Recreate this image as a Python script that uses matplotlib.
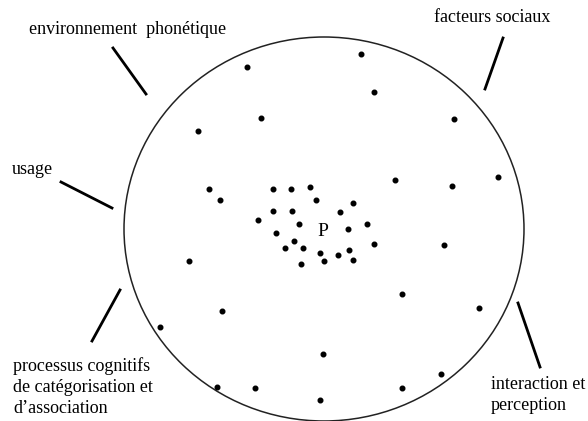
import matplotlib
matplotlib.use("Agg")
import matplotlib.pyplot as plt
from matplotlib.patches import Ellipse

# Dots (pixel coords, y downward)
outer_x = [247, 361, 374, 261, 198, 454, 395, 452, 498, 209, 220, 189, 444, 402, 479,
           222, 160, 323, 441, 217, 255, 402, 320]
outer_y = [67, 54, 92, 118, 131, 119, 180, 186, 177, 189, 200, 261, 245, 294, 308,
           311, 327, 354, 374, 387, 388, 388, 400]
cluster_x = [273, 291, 310, 316, 353, 273, 292, 340, 258, 299, 276, 367, 348, 294,
             285, 303, 374, 320, 349, 324, 338, 353, 301]
cluster_y = [189, 189, 187, 200, 203, 211, 211, 212, 220, 224, 233, 224, 229, 241,
             248, 248, 244, 253, 250, 261, 255, 260, 264]

circle_center = (324, 229)
circle_w, circle_h = 400, 384

# Labels: (text, x, y, ha)
labels = [
    ("environnement  phonétique", 29, 30, "left"),
    ("facteurs sociaux", 434, 17, "left"),
    ("usage", 12, 170, "left"),
    ("processus cognitifs\nde catégorisation et\nd’association", 13, 387, "left"),
    ("interaction et\nperception", 491, 395, "left"),
]
# Connector segments: (x0, y0, x1, y1)
segments = [
    (113, 48, 146, 94),
    (503, 38, 485, 89),
    (61, 182, 112, 208),
    (120, 290, 92, 341),
    (518, 303, 540, 367),
]

fig = plt.figure(figsize=(5.88, 4.21), dpi=100)
ax = fig.add_axes([0, 0, 1, 1])
ax.set_xlim(0, 588)
ax.set_ylim(421, 0)
ax.axis("off")

ax.add_patch(Ellipse(circle_center, circle_w, circle_h, fill=False,
                     edgecolor="#222222", linewidth=1.1))
ax.scatter(outer_x, outer_y, s=11, color="black", zorder=3)
ax.scatter(cluster_x, cluster_y, s=11, color="black", zorder=3)
ax.text(323, 231, "P", fontsize=14, family="Liberation Serif",
        ha="center", va="center", color="black")

for t, x, y, ha in labels:
    ax.text(x, y, t, fontsize=13, family="Liberation Serif", ha=ha, va="center",
            color="black", linespacing=1.3)
for x0, y0, x1, y1 in segments:
    ax.plot([x0, x1], [y0, y1], color="black", linewidth=2)

fig.savefig("out.png", dpi=100)
